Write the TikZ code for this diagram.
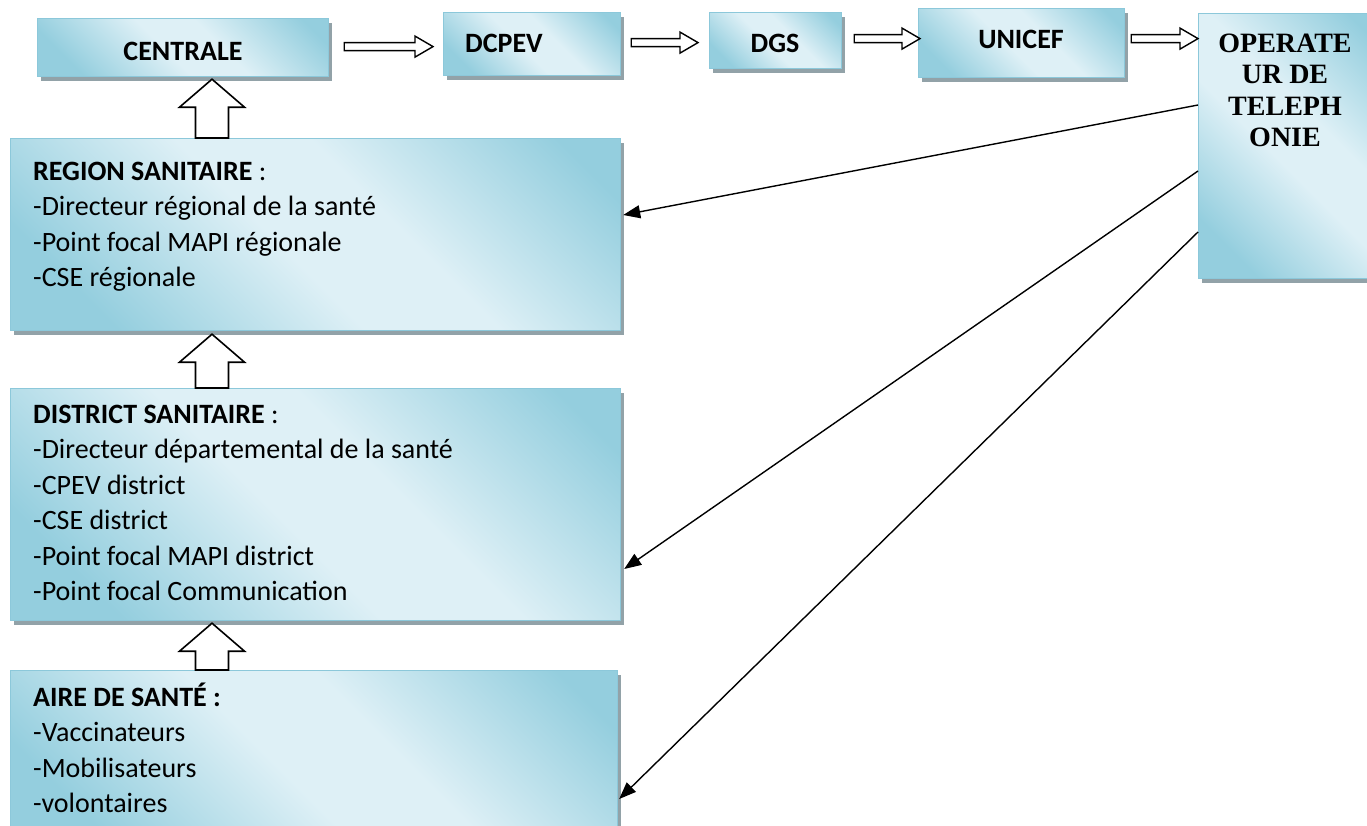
\documentclass[tikz,border=0pt]{standalone}
\usepackage{fontspec}
\setmainfont{Carlito}
\newfontfamily\tnr{Liberation Serif}
\usetikzlibrary{shadows,calc,arrows.meta}
\definecolor{bdark}{RGB}{148,206,222}
\definecolor{blight}{RGB}{222,240,246}
\definecolor{bedge}{RGB}{140,200,218}
\definecolor{shd}{RGB}{128,146,153}
\pgfdeclareverticalshading{boxshade}{100bp}{color(0bp)=(bdark); color(24bp)=(bdark); color(46bp)=(blight); color(58bp)=(blight); color(80bp)=(bdark); color(100bp)=(bdark)}
\tikzset{
  box/.style={draw=bedge, line width=1.2pt, inner sep=0pt, anchor=north west,
    shading=boxshade, shading angle=-45,
    drop shadow={shadow xshift=3pt, shadow yshift=-4pt, fill=shd, opacity=0.85}},
  body/.style={anchor=base west, inner sep=0pt},
  head/.style={font=\fontsize{28}{32}\selectfont\bfseries, inner sep=0pt},
  blockarrow/.style={draw=black, line width=1.6pt, fill=white, line join=miter},
  thin/.style={draw=black, line width=1.4pt, -{Triangle[length=17pt,width=13pt]}}
}
\newcommand\bodytext[1]{\parbox[t]{560pt}{\fontsize{28}{35.5}\selectfont\raggedright #1}}
\newcommand\blockup[2]{%
  \draw[blockarrow] let \p1=#1, \p2=#2 in
    (\x1-16.5pt,\y1) -- (\x1-16.5pt,\y2-28pt) -- (\x1-32.5pt,\y2-28pt) -- (\x1,\y2)
    -- (\x1+32.5pt,\y2-28pt) -- (\x1+16.5pt,\y2-28pt) -- (\x1+16.5pt,\y1) -- cycle;}
\newcommand\blockright[2]{%
  \draw[blockarrow, line width=1.4pt] let \p1=#1, \p2=#2 in
    (\x1,\y1+4pt) -- (\x2-18pt,\y1+4pt) -- (\x2-18pt,\y1+10.5pt) -- (\x2,\y1)
    -- (\x2-18pt,\y1-10.5pt) -- (\x2-18pt,\y1-4pt) -- (\x1,\y1-4pt) -- cycle;}
\begin{document}
\begin{tikzpicture}[x=1pt,y=-1pt]
\useasboundingbox (0,0) rectangle (1367,825);
\fill[white] (0,0) rectangle (1367,825);
% boxes
\node[box, minimum width=291, minimum height=58] (cen) at (37,18) {};
\node[box, minimum width=177, minimum height=63] (dcpev) at (443,12) {};
\node[box, minimum width=132, minimum height=56] (dgs) at (709,12) {};
\node[box, minimum width=206, minimum height=69] (unicef) at (918,8) {};
\node[box, minimum width=185, minimum height=265] (op) at (1198,13) {};
\node[box, minimum width=610, minimum height=192] (reg) at (10,138) {};
\node[box, minimum width=610, minimum height=232] (dist) at (10,388) {};
\node[box, minimum width=607, minimum height=175] (aire) at (10,670) {};
% texts
\node[head, anchor=base] (centxt) at (183,60) {CENTRALE};
\node[head, anchor=base west] (dcpevtxt) at (465,52) {DCPEV};
\node[head, anchor=base] (dgstxt) at (775,52) {DGS};
\node[head, anchor=base] (uniceftxt) at (1021,48) {UNICEF};
\node[anchor=base, inner sep=0pt] (optext) at (1285,52) {\parbox[t]{180pt}{\centering\tnr\bfseries\fontsize{28}{31.5}\selectfont OPERATE\\UR DE\\TELEPH\\ONIE}};
\node[body] (regtxt) at (33,180) {\bodytext{\textbf{REGION SANITAIRE} :\\-Directeur régional de la santé\\-Point focal MAPI régionale\\-CSE régionale}};
\node[body] (disttxt) at (33,423) {\bodytext{\textbf{DISTRICT SANITAIRE} :\\-Directeur départemental de la santé\\-CPEV district\\-CSE district\\-Point focal MAPI district\\-Point focal Communication}};
\node[body] (airetxt) at (33,706) {\bodytext{\textbf{AIRE DE SANTÉ :}\\-Vaccinateurs\\-Mobilisateurs\\-volontaires}};
% block arrows up
\blockup{($(reg.north west)+(202,0)$)}{($(cen.south west)+(175,2)$)}
\blockup{($(dist.north west)+(202,0)$)}{($(reg.south west)+(202,3)$)}
\blockup{($(aire.north west)+(202,0)$)}{($(dist.south west)+(202,2)$)}
% block arrows right
\blockright{($(cen.east)+(15,-1)$)}{($(dcpev.west)+(-10,2.5)$)}
\blockright{($(dcpev.east)+(10,-1.5)$)}{($(dgs.west)+(-11,0)$)}
\blockright{($(dgs.east)+(12,-2)$)}{($(unicef.west)+(2,0)$)}
\blockright{($(unicef.east)+(6,-4.5)$)}{($(op.west)+(0,0)$)}
% thin arrows
\draw[thin] ($(op.north west)+(0,92)$) -- ($(reg.north east)+(2,77)$);
\draw[thin] ($(op.north west)+(0,158)$) -- ($(dist.north east)+(3,181)$);
\draw[thin] ($(op.north west)+(0,219)$) -- ($(aire.north east)+(1,129)$);
\end{tikzpicture}
\end{document}
